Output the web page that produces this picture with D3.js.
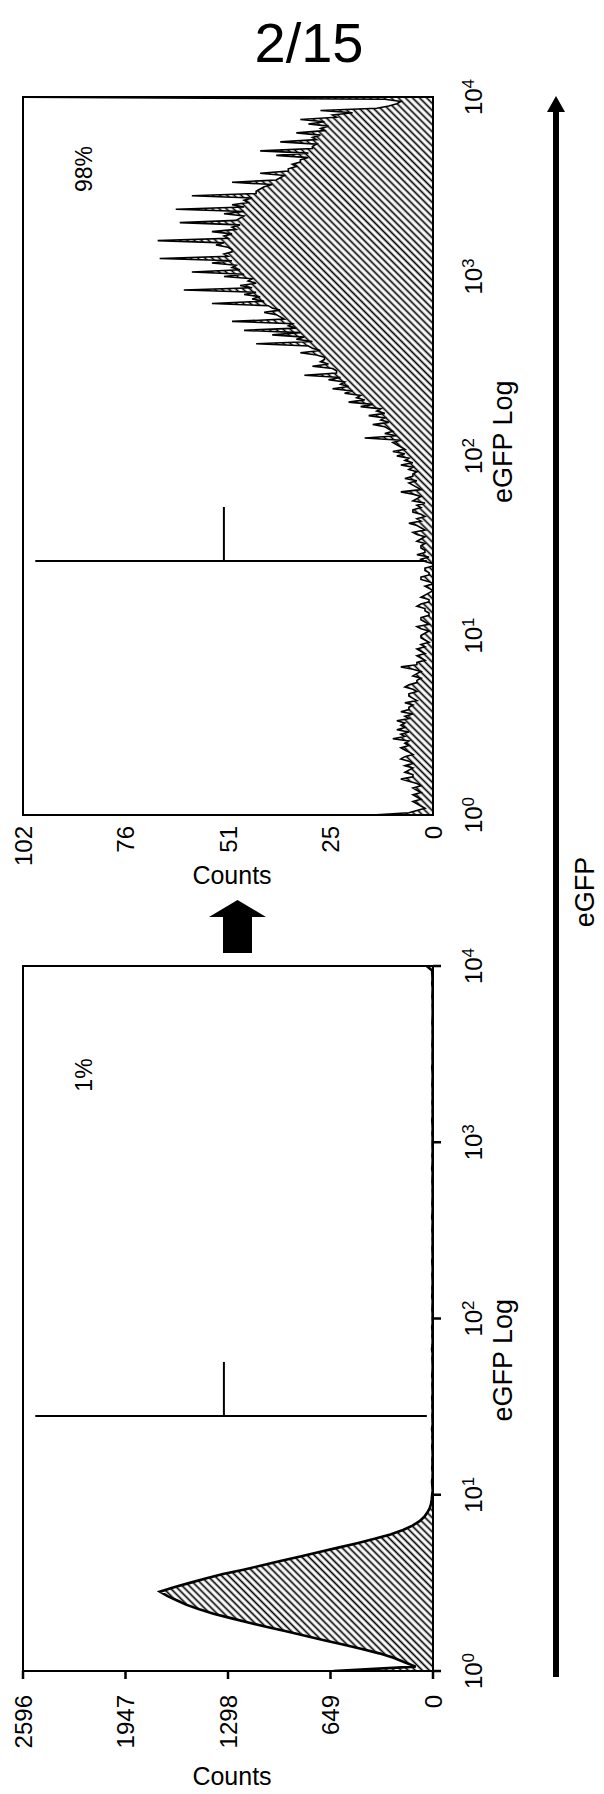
<!DOCTYPE html>
<html>
<head>
<meta charset="utf-8">
<script src="https://cdn.jsdelivr.net/npm/d3@7"></script>
<style>
  body { margin: 0; background: #fff; }
  text { font-family: "Liberation Sans Narrow", "Liberation Sans", Arial, sans-serif; fill: #000; }
</style>
</head>
<body>
<svg id="fig" width="604" height="1794"></svg>
<script>
// counts per log channel, first channel = 10^0, last channel = 10^4
// upper panel (98%), 321 channels
var afterCounts = [
  15, 6, 4, 2, 3, 4, 5, 3, 4, 5, 3, 4, 5, 3, 4, 6, 8, 5, 5, 7,
  6, 5, 7, 5, 6, 8, 7, 5, 6, 7, 8, 6, 7, 6, 10, 7, 8, 6, 9, 7,
  8, 7, 9, 6, 7, 5, 8, 6, 6, 5, 7, 4, 5, 6, 6, 4, 5, 7, 6, 4,
  4, 3, 5, 4, 3, 5, 8, 4, 4, 2, 3, 4, 2, 3, 4, 2, 3, 1, 2, 3,
  3, 2, 1, 3, 4, 1, 2, 3, 3, 1, 1, 2, 2, 4, 3, 1, 1, 3, 2, 1,
  0, 1, 2, 0, 1, 3, 3, 1, 1, 2, 2, 0, 0, 2, 3, 1, 4, 2, 2, 3,
  3, 2, 4, 3, 2, 4, 5, 2, 3, 4, 6, 3, 4, 2, 3, 5, 5, 3, 4, 2,
  5, 4, 3, 5, 8, 3, 4, 5, 6, 4, 7, 5, 5, 4, 6, 5, 8, 5, 7, 6,
  9, 7, 10, 7, 8, 9, 10, 8, 17, 9, 12, 10, 11, 12, 15, 11, 13, 12, 16, 12,
  14, 13, 18, 15, 21, 17, 19, 18, 22, 20, 25, 21, 23, 22, 26, 23, 32, 24, 24, 25,
  30, 26, 28, 27, 27, 29, 33, 28, 30, 31, 44, 30, 34, 32, 40, 33, 47, 34, 36, 35,
  50, 37, 38, 39, 42, 38, 40, 41, 55, 42, 45, 43, 47, 44, 62, 45, 48, 44, 46, 45,
  52, 47, 60, 48, 50, 49, 55, 50, 68, 51, 52, 50, 50, 51, 54, 52, 68.5, 51, 52, 50,
  55, 49, 50, 48, 63, 49, 48, 47, 52, 47, 64, 47, 50, 46, 47, 45, 60, 44, 44, 43,
  42, 40, 50, 39, 38, 37, 43, 36, 36, 34, 35, 33, 33, 31, 39, 31, 43, 30, 30, 29,
  38, 29, 30, 28, 34, 27, 28, 26, 31, 27, 33, 24, 25, 20, 28, 14, 11, 9, 8, 12,
  110
];
// lower panel (1%), 161 channels
var beforeCounts = [
  630, 110, 180, 250, 340, 450, 570, 690, 810, 930,
  1050, 1170, 1280, 1390, 1480, 1560, 1620, 1680, 1729, 1640,
  1540, 1440, 1330, 1200, 1080, 960, 840, 720, 600, 480,
  370, 270, 190, 130, 85, 55, 35, 20, 12, 8,
  5, 2, 4, 6, 3, 2, 5, 3, 4, 2,
  3, 5, 2, 4, 3, 6, 2, 3, 4, 2,
  4, 3, 5, 2, 3, 4, 2, 5, 3, 2,
  3, 4, 2, 6, 3, 2, 4, 3, 5, 2,
  3, 2, 4, 3, 2, 5, 3, 4, 2, 3,
  4, 2, 3, 5, 2, 3, 4, 2, 3, 2,
  4, 3, 2, 5, 3, 2, 4, 3, 2, 3,
  2, 4, 3, 2, 5, 3, 2, 4, 2, 3,
  3, 2, 4, 2, 3, 5, 2, 3, 2, 4,
  2, 3, 2, 4, 3, 2, 3, 5, 2, 3,
  3, 2, 4, 3, 2, 3, 2, 4, 3, 2,
  2, 3, 2, 4, 3, 2, 5, 3, 4, 6,
  40
];

var afterTicks = [0, 25.5, 51, 76.5, 102];
var afterTickLabels = ["0", "25", "51", "76", "102"];
var beforeTicks = [0, 649, 1298, 1947, 2596];
var beforeTickLabels = ["0", "649", "1298", "1947", "2596"];
var decades = [0, 1, 2, 3, 4];

var svg = d3.select("#fig");

// hatch fill
var defs = svg.append("defs");
defs.append("pattern")
    .attr("id", "hatch")
    .attr("patternUnits", "userSpaceOnUse")
    .attr("width", 5).attr("height", 5)
    .attr("patternTransform", "rotate(45)")
  .append("line")
    .attr("x1", 0).attr("y1", 2.5).attr("x2", 5).attr("y2", 2.5)
    .attr("stroke", "#000").attr("stroke-width", 1.7);

svg.append("text")
    .attr("x", 309).attr("y", 62)
    .attr("text-anchor", "middle")
    .style("font-family", "'Liberation Sans', Arial, sans-serif")
    .style("font-size", "56px")
    .text("2/15");

function rtext(g, x, y, str, size, anchor) {
  return g.append("text")
    .attr("transform", "translate(" + x + "," + y + ") rotate(-90)")
    .attr("text-anchor", anchor)
    .style("font-size", size + "px")
    .text(str);
}

function panel(opt) {
  var g = svg.append("g");
  var x = d3.scaleLinear().domain([0, opt.max]).range([433, 23]);
  var y = d3.scaleLog().domain([1, 1e4]).range([opt.bottom, opt.top]);
  var n = opt.counts.length;
  var pts = opt.counts.map(function(c, i) {
    return { e: Math.pow(10, i * 4 / (n - 1)), c: c };
  });

  var clipId = "clip" + opt.id;
  defs.append("clipPath").attr("id", clipId)
    .append("rect")
      .attr("x", 23).attr("y", opt.top)
      .attr("width", 410).attr("height", opt.bottom - opt.top);

  var area = d3.area()
      .y(function(d) { return y(d.e); })
      .x0(x(0))
      .x1(function(d) { return x(d.c); });
  var line = d3.line()
      .x(function(d) { return x(d.c); })
      .y(function(d) { return y(d.e); });

  var hg = g.append("g").attr("clip-path", "url(#" + clipId + ")");
  hg.append("path").datum(pts)
      .attr("d", area)
      .attr("fill", "url(#hatch)");
  hg.append("path").datum(pts)
      .attr("d", line)
      .attr("fill", "none")
      .attr("stroke", "#000")
      .attr("stroke-width", opt.lw)
      .attr("stroke-linejoin", "miter");

  // frame
  g.append("rect")
      .attr("x", 23).attr("y", opt.top)
      .attr("width", 410).attr("height", opt.bottom - opt.top)
      .attr("fill", "none").attr("stroke", "#000").attr("stroke-width", 2);

  // gate
  var gy = y(opt.gate);
  g.append("line")
      .attr("x1", x(opt.max * 0.97)).attr("x2", x(opt.max * 0.015))
      .attr("y1", gy).attr("y2", gy)
      .attr("stroke", "#000").attr("stroke-width", 2);
  g.append("line")
      .attr("x1", x(opt.max * 0.51)).attr("x2", x(opt.max * 0.51))
      .attr("y1", gy).attr("y2", gy - 54)
      .attr("stroke", "#000").attr("stroke-width", 2);

  // ticks
  var tl = opt.ticks ? 8 : 0;
  if (opt.ticks) {
    g.selectAll(".tx").data(opt.tickVals).enter().append("line")
        .attr("x1", function(d) { return x(d); }).attr("x2", function(d) { return x(d); })
        .attr("y1", opt.bottom).attr("y2", opt.bottom + tl)
        .attr("stroke", "#000").attr("stroke-width", 2.5);
    g.selectAll(".ty").data(decades).enter().append("line")
        .attr("x1", 433).attr("x2", 433 + tl)
        .attr("y1", function(d) { return y(Math.pow(10, d)); })
        .attr("y2", function(d) { return y(Math.pow(10, d)); })
        .attr("stroke", "#000").attr("stroke-width", 2.5);
  }

  opt.tickVals.forEach(function(v, i) {
    rtext(g, x(v), opt.bottom + opt.labelGap, opt.tickLabels[i], 24, "end")
      .attr("dominant-baseline", "central");
  });

  decades.forEach(function(d) {
    var t = rtext(g, 482, y(Math.pow(10, d)), "10", 24, "middle");
    t.append("tspan")
      .attr("dy", "-0.45em")
      .style("font-size", "17px")
      .text(d);
  });

  rtext(g, 512, y(opt.logLabelAt), "eGFP Log", 27, "middle");

  g.append("text")
      .attr("x", 232).attr("y", opt.countsY)
      .attr("text-anchor", "middle")
      .style("font-size", "25px")
      .text("Counts");

  rtext(g, 92, opt.pctY, opt.pct, 23, "middle");
}

panel({ id: "a", counts: afterCounts, max: 102, top: 97, bottom: 815, lw: 1.6,
        tickVals: afterTicks, tickLabels: afterTickLabels, ticks: false, labelGap: 11,
        gate: 26, logLabelAt: 120, countsY: 884, pct: "98%", pctY: 169 });
panel({ id: "b", counts: beforeCounts, max: 2596, top: 966, bottom: 1671, lw: 2.6,
        tickVals: beforeTicks, tickLabels: beforeTickLabels, ticks: true, labelGap: 24,
        gate: 28, logLabelAt: 58, countsY: 1785, pct: "1%", pctY: 1075 });

// block arrow between panels
var ay = d3.scaleLinear().domain([0, 1]).range([953, 900]);
svg.append("path")
    .attr("d", d3.line()([[223, ay(0)], [223, ay(0.68)], [209, ay(0.68)], [237.5, ay(1)],
                          [266, ay(0.68)], [252, ay(0.68)], [252, ay(0)]]) + "Z")
    .attr("fill", "#000");

// eGFP arrow along the right side
svg.append("line")
    .attr("x1", 556).attr("x2", 556)
    .attr("y1", 1677).attr("y2", 108)
    .attr("stroke", "#000").attr("stroke-width", 6);
svg.append("path")
    .attr("d", d3.line()([[547, 112], [556, 96], [565, 112]]) + "Z")
    .attr("fill", "#000");
rtext(svg, 594, 892, "eGFP", 27, "middle");
</script>
</body>
</html>
